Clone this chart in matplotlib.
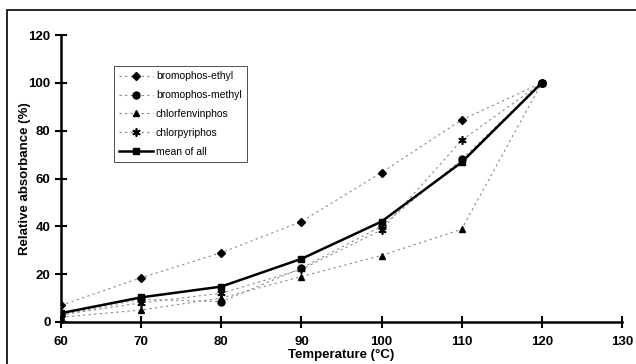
import matplotlib.pyplot as plt
from matplotlib.patches import Rectangle

plt.rcParams['font.family'] = ['Liberation Sans', 'DejaVu Sans']

# data
temps = [60, 70, 80, 90, 100, 110, 120]
bromophos_ethyl = [7, 18.5, 29, 42, 62.5, 84.5, 100]
bromophos_methyl = [3, 9.5, 8.5, 22.5, 40, 68, 100]
chlorfenvinphos = [2, 5, 10, 19, 27.8, 38.8, 100]
chlorpyriphos = [3, 8, 12, 22, 38.5, 76, 100]
mean_of_all = [3.7, 10.3, 14.8, 26.4, 42, 66.8, 100]

xticks = [60, 70, 80, 90, 100, 110, 120, 130]
yticks = [0, 20, 40, 60, 80, 100, 120]

fig = plt.figure(figsize=(6.36, 3.64), dpi=100)
ax = fig.add_axes([0.0959, 0.1154, 0.882, 0.7884])

# outer frame
fig.patches.append(Rectangle((7 / 636, -0.1), 1.2, 1 - 10 / 364 + 0.1,
                             transform=fig.transFigure, fill=False,
                             edgecolor='black', linewidth=1.2))

dot = dict(color='#888888', linestyle=(0, (2, 3)), linewidth=0.8,
           markerfacecolor='black', markeredgecolor='black')
ax.plot(temps, bromophos_ethyl, marker='D', markersize=4, label='bromophos-ethyl', **dot)
ax.plot(temps, bromophos_methyl, marker='o', markersize=5, label='bromophos-methyl', **dot)
ax.plot(temps, chlorfenvinphos, marker='^', markersize=5, label='chlorfenvinphos', **dot)
ax.plot(temps, chlorpyriphos, marker=(6, 2, 0), markersize=6, markeredgewidth=1.2,
        label='chlorpyriphos', **dot)
ax.plot(temps, mean_of_all, color='black', linewidth=1.8, marker='s', markersize=5,
        label='mean of all')

ax.set_xlim(60, 130)
ax.set_ylim(0, 120)
ax.set_xticks(xticks)
ax.set_yticks(yticks)
ax.spines['top'].set_visible(False)
ax.spines['right'].set_visible(False)
ax.spines['left'].set_linewidth(1.8)
ax.spines['bottom'].set_linewidth(1.8)
ax.spines['left'].set_bounds(0, 120)
ax.tick_params(direction='inout', length=8, width=1.5, labelsize=9.5)
for lab in ax.get_xticklabels() + ax.get_yticklabels():
    lab.set_fontweight('bold')
ax.tick_params(axis='x', pad=6)
ax.set_xlabel('Temperature (°C)', fontsize=9.5, fontweight='bold', labelpad=1)
ax.set_ylabel('Relative absorbance (%)', fontsize=9.5, fontweight='bold', labelpad=-2)

leg = ax.legend(loc='upper left', bbox_to_anchor=(109 / 636, 1 - 61 / 364),
                bbox_transform=fig.transFigure, fontsize=7.5, frameon=True,
                fancybox=False, edgecolor='black', handlelength=3.2,
                labelspacing=0.85, borderpad=0.5, handletextpad=0.3)
leg.get_frame().set_linewidth(0.6)

fig.savefig('out.png', dpi=100)
